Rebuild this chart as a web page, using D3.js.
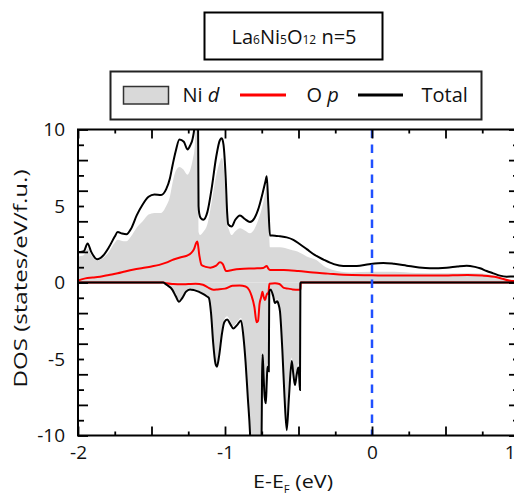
<!DOCTYPE html>
<html><head><meta charset="utf-8">
<script src="https://cdn.jsdelivr.net/npm/d3@7"></script>
<style>
body{margin:0;background:#fff}
svg{display:block}
text{font-family:"Open Sans","DejaVu Sans",sans-serif;fill:#111}
</style>
</head><body>
<svg id="chart" width="514" height="496"></svg>
<script>
// ---------- data (energy in eV, DOS in states/eV/f.u.) ----------
const totalUpE = [-2.00,-1.985,-1.96,-1.935,-1.91,-1.87,-1.83,-1.79,-1.75,-1.73,-1.70,-1.67,-1.64,-1.60,-1.56,-1.52,-1.48,-1.435,-1.40,-1.375,-1.356,-1.335,-1.31,-1.28,-1.255,-1.235,-1.22,-1.205,-1.195,-1.185,-1.18,-1.175,-1.165,-1.148,-1.12,-1.09,-1.06,-1.035,-1.022,-1.01,-0.995,-0.985,-0.978,-0.955,-0.93,-0.898,-0.865,-0.83,-0.80,-0.77,-0.745,-0.725,-0.716,-0.705,-0.694,-0.66,-0.626,-0.58,-0.535,-0.49,-0.444,-0.39,-0.331,-0.26,-0.195,-0.104,-0.02,0.077,0.15,0.236,0.32,0.395,0.508,0.58,0.644,0.70,0.735,0.78,0.825,0.87,0.916,0.96,1.00];
const totalUpV = [2.00,2.00,2.05,2.55,2.00,1.52,1.75,2.30,3.00,3.30,3.20,3.15,3.50,4.40,5.10,5.60,5.75,5.72,6.10,6.80,7.70,8.60,9.35,9.20,8.70,9.00,9.40,10.5,13.0,13.0,5.00,4.50,4.20,4.10,4.60,6.20,8.20,9.30,9.42,9.00,6.80,4.50,3.80,3.66,4.10,4.38,4.15,3.95,4.20,4.90,5.80,6.60,6.95,5.00,3.07,3.06,3.02,2.95,2.79,2.50,2.18,1.80,1.50,1.20,1.08,1.08,1.20,1.28,1.22,1.10,0.98,0.93,0.97,1.05,1.10,1.02,0.93,0.75,0.60,0.45,0.38,0.40,0.35];

const niUpE = [-2.00,-1.96,-1.935,-1.91,-1.87,-1.83,-1.79,-1.75,-1.73,-1.69,-1.67,-1.64,-1.60,-1.56,-1.52,-1.48,-1.435,-1.40,-1.375,-1.355,-1.335,-1.31,-1.285,-1.255,-1.235,-1.22,-1.205,-1.195,-1.185,-1.18,-1.17,-1.148,-1.12,-1.09,-1.06,-1.035,-1.022,-1.01,-0.995,-0.985,-0.975,-0.955,-0.93,-0.898,-0.865,-0.83,-0.80,-0.77,-0.745,-0.725,-0.716,-0.705,-0.694,-0.626,-0.558,-0.49,-0.444,-0.376,-0.33,-0.265,-0.15,0.00,0.15,0.30,0.50,0.70,0.80,0.88,0.95,1.00];
const niUpV = [1.70,1.80,2.20,1.80,1.45,1.60,2.00,2.60,2.80,2.70,2.70,3.00,3.60,4.00,4.45,4.55,4.55,5.00,5.60,6.60,7.30,7.55,7.40,7.05,7.40,8.00,9.00,12.0,12.0,3.30,3.10,3.30,3.80,5.30,7.00,7.90,8.14,7.60,5.50,3.80,3.50,3.10,3.35,3.55,3.40,3.22,3.50,4.20,5.00,5.90,6.30,4.80,2.30,2.30,2.15,1.95,1.70,1.45,1.10,0.82,0.66,0.70,0.70,0.62,0.60,0.60,0.52,0.30,0.18,0.15];

const opUpE = [-2.00,-1.95,-1.90,-1.85,-1.79,-1.73,-1.68,-1.62,-1.56,-1.50,-1.447,-1.40,-1.35,-1.30,-1.26,-1.231,-1.21,-1.197,-1.188,-1.175,-1.16,-1.13,-1.10,-1.06,-1.034,-1.015,-0.993,-0.95,-0.898,-0.80,-0.74,-0.716,-0.705,-0.694,-0.60,-0.50,-0.40,-0.30,-0.195,0.00,0.20,0.45,0.65,0.75,0.85,0.95,1.00];
const opUpV = [0.12,0.27,0.32,0.38,0.49,0.60,0.72,0.85,0.95,1.05,1.15,1.30,1.50,1.65,1.75,1.92,2.20,2.57,2.68,1.80,1.15,1.02,0.97,1.10,1.32,1.20,0.75,0.82,0.88,0.92,0.95,1.08,0.90,0.82,0.82,0.75,0.65,0.58,0.50,0.47,0.45,0.45,0.49,0.45,0.35,0.10,0.08];

const totalDownE = [-2.00,-1.42,-1.41,-1.39,-1.36,-1.335,-1.313,-1.29,-1.265,-1.238,-1.21,-1.18,-1.15,-1.125,-1.11,-1.095,-1.08,-1.065,-1.055,-1.04,-1.02,-1.005,-0.985,-0.965,-0.943,-0.915,-0.891,-0.875,-0.86,-0.845,-0.83,-0.825,-0.752,-0.748,-0.744,-0.738,-0.73,-0.722,-0.716,-0.711,-0.706,-0.702,-0.699,-0.69,-0.672,-0.66,-0.645,-0.635,-0.626,-0.61,-0.595,-0.58,-0.565,-0.546,-0.535,-0.524,-0.512,-0.501,-0.495,-0.49,-0.487,-0.485,1.00];
const totalDownV = [0,0,-0.06,-0.20,-0.45,-0.90,-1.25,-1.00,-0.60,-0.45,-0.50,-0.60,-0.75,-0.90,-1.00,-2.00,-4.00,-5.30,-5.50,-4.80,-3.30,-2.60,-2.42,-2.70,-3.00,-2.75,-2.48,-3.50,-5.20,-7.50,-9.80,-11,-11,-6.20,-4.70,-6.00,-7.50,-7.90,-6.50,-5.50,-5.60,-5.80,-0.60,-0.45,-0.90,-1.34,-1.23,-1.45,-1.89,-4.40,-7.50,-9.65,-7.50,-5.13,-6.00,-6.70,-6.00,-5.56,-6.20,-7.03,-0.05,0,0];

const niDownE = [-2.00,-1.42,-1.41,-1.39,-1.36,-1.335,-1.313,-1.29,-1.265,-1.238,-1.21,-1.18,-1.15,-1.125,-1.11,-1.095,-1.08,-1.065,-1.055,-1.04,-1.02,-1.005,-0.985,-0.965,-0.943,-0.915,-0.891,-0.875,-0.86,-0.845,-0.83,-0.825,-0.752,-0.748,-0.744,-0.738,-0.73,-0.722,-0.716,-0.711,-0.706,-0.702,-0.699,-0.69,-0.672,-0.66,-0.645,-0.635,-0.626,-0.61,-0.595,-0.58,-0.565,-0.546,-0.535,-0.524,-0.512,-0.501,-0.495,-0.49,-0.487,-0.485,1.00];
const niDownV = [0,0,-0.05,-0.18,-0.42,-0.85,-1.15,-0.95,-0.55,-0.40,-0.45,-0.55,-0.70,-0.85,-0.95,-1.90,-3.80,-5.10,-5.30,-4.60,-3.10,-2.40,-2.20,-2.50,-2.85,-2.55,-2.30,-3.30,-5.00,-7.30,-9.60,-11,-11,-6.00,-4.40,-5.80,-7.30,-7.70,-6.30,-5.30,-5.40,-5.60,-0.50,-0.35,-0.80,-1.20,-1.10,-1.35,-1.75,-4.20,-7.30,-9.40,-7.30,-4.90,-5.80,-6.50,-5.80,-5.30,-6.00,-6.80,-0.05,0,0];

const opDownE = [-2.00,-1.42,-1.40,-1.35,-1.30,-1.25,-1.20,-1.15,-1.12,-1.08,-1.05,-1.00,-0.95,-0.90,-0.86,-0.835,-0.82,-0.80,-0.785,-0.775,-0.765,-0.755,-0.745,-0.738,-0.728,-0.72,-0.712,-0.705,-0.698,-0.66,-0.63,-0.60,-0.57,-0.54,-0.50,-0.487,-0.485,1.00];
const opDownV = [0,0,-0.05,-0.10,-0.12,-0.10,-0.08,-0.15,-0.30,-0.47,-0.45,-0.40,-0.22,-0.20,-0.26,-0.50,-0.85,-1.60,-2.60,-2.50,-1.40,-1.00,-0.60,-0.90,-1.15,-0.90,-0.70,-0.75,-0.08,-0.05,-0.10,-0.35,-0.40,-0.45,-0.48,-0.45,0,0];

const xMajorTicks = [-2,-1.5,-1,-0.5,0,0.5,1];
const xMinorTicks = [-1.75,-1.25,-0.75,-0.25,0.25,0.75];
const xTickLabels = ["-2","","-1","","0","","1"];
const yMajorTicks = [-10,-8,-6,-4,-2,0,2,4,6,8,10];
const yMinorTicks = [-9,-7,-5,-3,-1,1,3,5,7,9];
const yLabelTicks = [-10,-5,0,5,10];
const yTickLabels = ["-10","-5","0","5","10"];
const legendLabels = [["Ni ","d"],["O ","p"],["Total",""]];
const fermiLevel = 0;

// ---------- drawing ----------
const FONT = '"Open Sans","DejaVu Sans",sans-serif';
const svg = d3.select("#chart");
const x = d3.scaleLinear().domain([-2, 1]).range([78, 519]);
const y = d3.scaleLinear().domain([-10, 10]).range([435.5, 129.5]);
const zip = (E, V) => E.map((e, i) => [e, V[i]]);

svg.append("defs").append("clipPath").attr("id","plotclip")
  .append("rect").attr("x",x(-2)).attr("y",y(10)).attr("width",x(1)-x(-2)).attr("height",y(-10)-y(10));

const plot = svg.append("g").attr("clip-path","url(#plotclip)");
const area = d3.area().x(d=>x(d[0])).y0(y(0)).y1(d=>y(d[1])).curve(d3.curveMonotoneX);
const line = d3.line().x(d=>x(d[0])).y(d=>y(d[1])).curve(d3.curveMonotoneX);

plot.append("path").attr("d", area(zip(niUpE, niUpV))).attr("fill","#d9d9d9");
plot.append("path").attr("d", area(zip(niDownE, niDownV))).attr("fill","#d9d9d9");
plot.append("path").attr("d", line(zip(opUpE, opUpV))).attr("fill","none").attr("stroke","#ff0000").attr("stroke-width",2);
plot.append("path").attr("d", line(zip(opDownE, opDownV))).attr("fill","none").attr("stroke","#ff0000").attr("stroke-width",2);
plot.append("path").attr("d", line(zip(totalUpE, totalUpV))).attr("fill","none").attr("stroke","#000").attr("stroke-width",2);
plot.append("path").attr("d", line(zip(totalDownE, totalDownV))).attr("fill","none").attr("stroke","#000").attr("stroke-width",2);
plot.append("line").attr("x1",x(fermiLevel)).attr("x2",x(fermiLevel)).attr("y1",y(10)).attr("y2",y(-10))
  .attr("stroke","#2050ff").attr("stroke-width",2.5).attr("stroke-dasharray","8.5,6.5");

// axes
function styleAxis(g){
  g.select(".domain").remove();
  g.selectAll(".tick line").attr("stroke","#000").attr("stroke-width",1.8);
  g.selectAll(".tick text").attr("font-size",19).attr("font-family",FONT).attr("fill","#111");
}
const bottomY = y(-10), topY = y(10), leftX = x(-2), rightX = x(1);
const bx = svg.append("g").attr("transform",`translate(0,${bottomY})`)
  .call(d3.axisBottom(x).tickValues(xMajorTicks).tickSize(-9).tickPadding(10).tickFormat((d,i)=>xTickLabels[i])).call(styleAxis);
// keep the partly-clipped "1" at the right edge inside the page
bx.selectAll(".tick text").filter(d=>d===1).attr("text-anchor","end").attr("x",-4);
svg.append("g").attr("transform",`translate(0,${bottomY})`)
  .call(d3.axisBottom(x).tickValues(xMinorTicks).tickSize(-4).tickFormat("")).call(styleAxis);
svg.append("g").attr("transform",`translate(0,${topY})`)
  .call(d3.axisTop(x).tickValues(xMajorTicks).tickSize(-9).tickFormat("")).call(styleAxis);
svg.append("g").attr("transform",`translate(0,${topY})`)
  .call(d3.axisTop(x).tickValues(xMinorTicks).tickSize(-4).tickFormat("")).call(styleAxis);
svg.append("g").attr("transform",`translate(${leftX},0)`)
  .call(d3.axisLeft(y).tickValues(yMajorTicks).tickSize(-10).tickFormat("")).call(styleAxis);
svg.append("g").attr("transform",`translate(${leftX},0)`)
  .call(d3.axisLeft(y).tickValues(yMinorTicks).tickSize(-6).tickFormat("")).call(styleAxis);
svg.append("g").attr("transform",`translate(${leftX},0)`)
  .call(d3.axisLeft(y).tickValues(yLabelTicks).tickSize(0).tickPadding(13).tickFormat((d,i)=>yTickLabels[i])).call(styleAxis);
svg.append("g").attr("transform",`translate(${rightX},0)`)
  .call(d3.axisRight(y).tickValues(yMajorTicks).tickSize(-10).tickFormat("")).call(styleAxis);
svg.append("g").attr("transform",`translate(${rightX},0)`)
  .call(d3.axisRight(y).tickValues(yMinorTicks).tickSize(-6).tickFormat("")).call(styleAxis);

svg.append("rect").attr("x",leftX).attr("y",topY).attr("width",rightX-leftX).attr("height",bottomY-topY)
  .attr("fill","none").attr("stroke","#000").attr("stroke-width",2);

// axis titles
const xl = svg.append("text").attr("x",293).attr("y",488).attr("text-anchor","middle").attr("font-size",19)
  .attr("textLength",80).attr("lengthAdjust","spacingAndGlyphs");
xl.append("tspan").text("E-E");
xl.append("tspan").attr("font-size",10).attr("dy",5).text("F");
xl.append("tspan").attr("dy",-5).text(" (eV)");

svg.append("text").attr("transform",`translate(27,${(topY+bottomY)/2-4}) rotate(-90)`)
  .attr("text-anchor","middle").attr("font-size",19)
  .attr("textLength",218).attr("lengthAdjust","spacingAndGlyphs").text("DOS (states/eV/f.u.)");

// title box
svg.append("rect").attr("x",204.5).attr("y",12.5).attr("width",178).attr("height",47)
  .attr("fill","#fff").attr("stroke","#000").attr("stroke-width",2);
const tt = svg.append("text").attr("x",294).attr("y",44).attr("text-anchor","middle").attr("font-size",20);
[["La",""],["6","s"],["Ni",""],["5","s"],["O",""],["12","s"],[" n=5",""]].forEach(([t,k])=>{
  const s = tt.append("tspan").text(t);
  if(k==="s") s.attr("font-size",12);
});

// legend
svg.append("rect").attr("x",110.5).attr("y",71.5).attr("width",371).attr("height",48)
  .attr("fill","#fff").attr("stroke","#222").attr("stroke-width",2);
svg.append("rect").attr("x",123.5).attr("y",86.5).attr("width",45).attr("height",17.5)
  .attr("fill","#d9d9d9").attr("stroke","#333").attr("stroke-width",1.5);
svg.append("line").attr("x1",240).attr("x2",286).attr("y1",95).attr("y2",95).attr("stroke","#ff0000").attr("stroke-width",3);
svg.append("line").attr("x1",358).attr("x2",403).attr("y1",95).attr("y2",95).attr("stroke","#000").attr("stroke-width",3);
const legX = [182.5, 306.5, 421.5];
legendLabels.forEach(([a,b],i)=>{
  const t = svg.append("text").attr("x",legX[i]).attr("y",101.5).attr("font-size",20);
  t.append("tspan").text(a);
  if(b) t.append("tspan").attr("font-style","italic").text(b);
});
</script>
</body></html>
